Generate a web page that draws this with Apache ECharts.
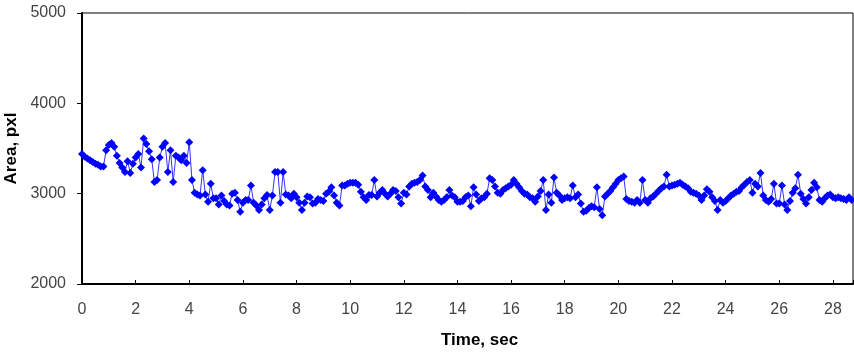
<!DOCTYPE html>
<html>
<head>
<meta charset="utf-8">
<script src="https://cdn.jsdelivr.net/npm/echarts@6/dist/echarts.min.js"></script>
<style>
html, body { margin: 0; padding: 0; background: #fff; }
#main { width: 854px; height: 353px; }
</style>
</head>
<body>
<div id="main"></div>
<script>
// 采样间隔 0.1 秒
var dt = 0.1;
// 面积 (pxl)，每行 1 秒
var area = [
    3440, 3410, 3390, 3370, 3350, 3330, 3320, 3300, 3300, 3480,
    3540, 3560, 3520, 3420, 3340, 3290, 3240, 3360, 3230, 3330,
    3400, 3440, 3290, 3610, 3550, 3470, 3380, 3130, 3150, 3400,
    3520, 3560, 3240, 3480, 3130, 3420, 3400, 3370, 3420, 3340,
    3570, 3150, 3010, 2990, 2980, 3260, 2990, 2910, 3110, 2950,
    2950, 2880, 2980, 2920, 2880, 2870, 3000, 3010, 2930, 2800,
    2900, 2930, 2930, 3090, 2900, 2870, 2820, 2880, 2950, 2985,
    2820, 2980, 3240, 3240, 2900, 3240, 2990, 2980, 2950, 3000,
    2960, 2900, 2820, 2900, 2970, 2960, 2890, 2900, 2940, 2930,
    2920, 3000, 3020, 3070, 2980, 2900, 2870, 3090, 3090, 3110,
    3120, 3120, 3120, 3100, 3020, 2960, 2930, 2985, 2985, 3150,
    2970, 3010, 3040, 3000, 2970, 3000, 3040, 3030, 2960, 2890,
    3010, 2990, 3080, 3110, 3120, 3130, 3150, 3200, 3080, 3040,
    2960, 3010, 2970, 2930, 2910, 2930, 2960, 3040, 2980, 2960,
    2910, 2910, 2920, 2960, 2980, 2860, 3070, 2990, 2920, 2950,
    2960, 3000, 3170, 3150, 3080, 3010, 3000, 3040, 3060, 3080,
    3100, 3150, 3110, 3070, 3030, 3000, 2990, 2960, 2950, 2910,
    2970, 3030, 3150, 2820, 2990, 2900, 3180, 3010, 2980, 2930,
    2950, 2960, 2950, 3090, 2960, 2990, 2890, 2800, 2810, 2840,
    2860, 2850, 3070, 2830, 2760, 2970, 3000, 3030, 3070, 3110,
    3150, 3170, 3190, 2940, 2920, 2910, 2900, 2930, 2900, 3150,
    2930, 2900, 2950, 2970, 3000, 3030, 3060, 3080, 3210, 3080,
    3090, 3100, 3110, 3120, 3100, 3080, 3060, 3020, 3010, 3000,
    2980, 2930, 2980, 3050, 3020, 2960, 2920, 2820, 2930, 2900,
    2920, 2950, 2980, 3000, 3020, 3030, 3070, 3100, 3130, 3150,
    3010, 3110, 3080, 3230, 2980, 2930, 2910, 2940, 3110, 2890,
    2890, 3090, 2880, 2820, 2920, 3010, 3060, 3210, 3000, 2940,
    2890, 2960, 3040, 3120, 3070, 2930, 2910, 2950, 2980, 2990,
    2960, 2950, 2960, 2950, 2940, 2930, 2960, 2930
];

var points = [];
for (var i = 0; i < area.length; i++) {
    points.push([Math.round(i * dt * 10) / 10, area[i]]);
}

var chart = echarts.init(document.getElementById('main'));
var option = {
    animation: false,
    backgroundColor: '#fff',
    grid: {
        left: 82, right: 1, top: 13, bottom: 69,
        containLabel: false,
        outerBoundsMode: 'none',
        show: true, borderColor: '#000', borderWidth: 1
    },
    xAxis: {
        type: 'value',
        min: 0, max: 28.75, interval: 2,
        axisLine: { show: true, lineStyle: { color: '#000', width: 2 } },
        axisTick: { show: true, inside: true, length: 4, lineStyle: { color: '#000' } },
        splitLine: { show: false },
        axisLabel: {
            margin: 18, fontFamily: 'Liberation Sans', fontSize: 16, color: '#444',
            formatter: function (v) { return v % 2 === 0 ? String(v) : ''; }
        }
    },
    yAxis: {
        type: 'value',
        min: 2000, max: 5000, interval: 1000,
        name: 'Area, pxl',
        nameLocation: 'middle',
        nameGap: 55,
        nameTextStyle: { fontFamily: 'Liberation Sans', fontSize: 17, fontWeight: 'bold', color: '#000' },
        axisLine: { show: true, lineStyle: { color: '#000', width: 2 } },
        axisTick: { show: true, length: 5, lineStyle: { color: '#000' } },
        splitLine: { show: false },
        axisLabel: {
            margin: 16, fontFamily: 'Liberation Sans', fontSize: 16, color: '#444',
            formatter: function (v) { return String(v); }
        }
    },
    graphic: [{
        type: 'text', left: 441, top: 332,
        style: { text: 'Time, sec', font: 'bold 17px "Liberation Sans"', fill: '#000' }
    }],
    series: [{
        type: 'line',
        data: points,
        symbol: 'diamond',
        symbolSize: 8,
        showAllSymbol: true,
        lineStyle: { color: '#3333ff', width: 1 },
        itemStyle: { color: '#0000ff' }
    }]
};
chart.setOption(option);
</script>
</body>
</html>
